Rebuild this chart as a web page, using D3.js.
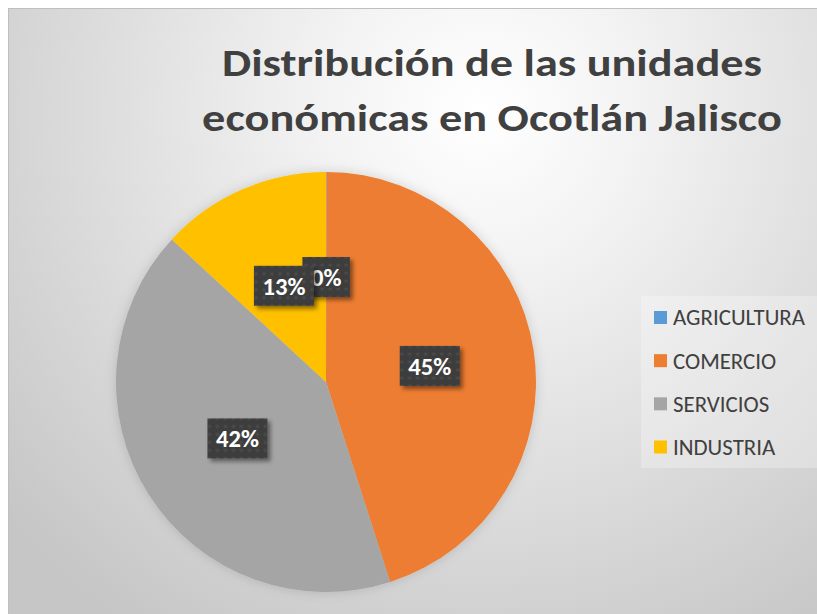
<!DOCTYPE html>
<html><head><meta charset="utf-8">
<script src="https://cdn.jsdelivr.net/npm/d3@7"></script>
<style>html,body{margin:0;padding:0;background:#fff;overflow:hidden}</style>
</head><body>
<svg id="chart" width="817" height="614"></svg>
<script>
const categories = ["AGRICULTURA", "COMERCIO", "SERVICIOS", "INDUSTRIA"];
const values = [2, 2110, 1960, 615];
const colors = ["#5B9BD5", "#ED7D31", "#A5A5A5", "#FFC000"];
const titleLines = ["Distribución de las unidades", "económicas en Ocotlán Jalisco"];

const FONT = "Carlito, Lato, 'Open Sans', sans-serif";
const svg = d3.select("#chart");
const defs = svg.append("defs");

const bg = defs.append("radialGradient").attr("id", "bg")
  .attr("gradientUnits", "userSpaceOnUse")
  .attr("cx", 480).attr("cy", 110).attr("r", 620);
bg.append("stop").attr("offset", "0").attr("stop-color", "#ffffff");
bg.append("stop").attr("offset", "0.25").attr("stop-color", "#f3f3f3");
bg.append("stop").attr("offset", "1").attr("stop-color", "#c6c6c6");

const pat = defs.append("pattern").attr("id", "dots")
  .attr("patternUnits", "userSpaceOnUse").attr("width", 8).attr("height", 8);
pat.append("rect").attr("width", 8).attr("height", 8).attr("fill", "#3e3e3e");
pat.append("circle").attr("cx", 4).attr("cy", 4).attr("r", 1.6).attr("fill", "#4c4c4c");

const sh = defs.append("filter").attr("id", "shadow")
  .attr("x", "-30%").attr("y", "-30%").attr("width", "160%").attr("height", "160%");
sh.append("feDropShadow").attr("dx", 3).attr("dy", 3).attr("stdDeviation", 2)
  .attr("flood-color", "#000").attr("flood-opacity", 0.45);

const psh = defs.append("filter").attr("id", "pshadow")
  .attr("x", "-20%").attr("y", "-20%").attr("width", "140%").attr("height", "140%");
psh.append("feDropShadow").attr("dx", 0).attr("dy", 0).attr("stdDeviation", 6)
  .attr("flood-color", "#000").attr("flood-opacity", 0.15);

// frame
svg.append("rect").attr("x", 8.5).attr("y", 8.5).attr("width", 830).attr("height", 630)
  .attr("fill", "url(#bg)").attr("stroke", "#bfbfbf").attr("stroke-width", 1);

// title
const title = svg.append("g");
const tl1 = title.append("text").attr("x", 492).attr("y", 76)
  .attr("text-anchor", "middle").attr("font-family", FONT).attr("font-weight", "bold")
  .attr("font-size", 38).attr("fill", "#404040").text(titleLines[0]);
const tk = 540 / tl1.node().getComputedTextLength();
tl1.attr("textLength", tl1.node().getComputedTextLength() * tk).attr("lengthAdjust", "spacingAndGlyphs");
const tl2 = title.append("text").attr("x", 492).attr("y", 131)
  .attr("text-anchor", "middle").attr("font-family", FONT).attr("font-weight", "bold")
  .attr("font-size", 38).attr("fill", "#404040").text(titleLines[1]);
tl2.attr("textLength", tl2.node().getComputedTextLength() * tk).attr("lengthAdjust", "spacingAndGlyphs");

// pie
const cx = 326, cy = 382, R = 210;
const pie = d3.pie().sort(null).value(d => d.v)(categories.map((c, i) => ({c, v: values[i], i})));
const arc = d3.arc().innerRadius(0).outerRadius(R);
const total = d3.sum(values);
const g = svg.append("g").attr("transform", `translate(${cx},${cy})`);
g.append("g").attr("filter", "url(#pshadow)").selectAll("path").data(pie).join("path")
  .attr("d", arc).attr("fill", d => colors[d.data.i]);

// labels
const fmt = d3.format(".0%");
const LFS = 25;
const lab = g.selectAll("g.lab").data(pie).join("g").attr("class", "lab")
  .attr("transform", d => `translate(${arc.centroid(d)})`);
lab.append("rect").attr("filter", "url(#shadow)").attr("fill", "url(#dots)");
lab.append("text").attr("text-anchor", "middle").attr("dy", "0.36em")
  .attr("font-family", FONT).attr("font-weight", "bold").attr("font-size", LFS)
  .attr("fill", "#ffffff").text(d => fmt(d.data.v / total));
const lk = 43 / lab.filter(d => d.data.i === 1).select("text").node().getComputedTextLength();
lab.each(function() {
  const s = d3.select(this);
  const t = s.select("text");
  const w = t.node().getComputedTextLength() * lk;
  t.attr("textLength", w).attr("lengthAdjust", "spacingAndGlyphs");
  s.select("rect").attr("x", -w / 2 - 8.5).attr("y", -20).attr("width", w + 17).attr("height", 40);
});

// legend
svg.append("rect").attr("x", 641).attr("y", 296).attr("width", 200).attr("height", 172)
  .attr("fill", "#ffffff").attr("fill-opacity", 0.28);
const ly = d3.scalePoint().domain(categories).range([317.5, 447]);
const leg = svg.append("g").selectAll("g").data(categories).join("g")
  .attr("transform", c => `translate(654,${ly(c)})`);
leg.append("rect").attr("x", 0).attr("y", -6.5).attr("width", 13).attr("height", 13)
  .attr("fill", (c, i) => colors[i]);
const lt = leg.append("text").attr("x", 19).attr("dy", "0.36em")
  .attr("font-family", FONT).attr("font-size", 22).attr("fill", "#404040").text(c => c);
{
  const gk = 132 / lt.filter(c => c === "AGRICULTURA").node().getComputedTextLength();
  lt.each(function() {
    const t = d3.select(this);
    t.attr("textLength", t.node().getComputedTextLength() * gk).attr("lengthAdjust", "spacingAndGlyphs");
  });
}
</script>
</body></html>
